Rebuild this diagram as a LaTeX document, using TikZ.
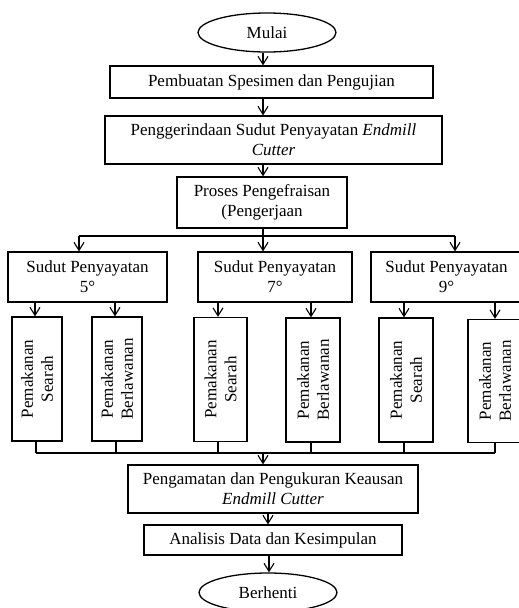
\documentclass[tikz,border=0pt]{standalone}
\usepackage{fontspec}
\setmainfont{Liberation Serif}
\usetikzlibrary{shapes.geometric,arrows.meta}
\begin{document}
\begin{tikzpicture}[x=1pt,y=-1pt,
  txt/.style={font=\fontsize{17}{20}\selectfont},
  box/.style={draw,line width=1.3pt,rectangle,inner sep=0pt,align=center,txt},
  oval/.style={draw,line width=1.3pt,ellipse,inner sep=0pt,txt,minimum width=138,minimum height=39},
  vbox/.style={draw,line width=1.3pt,rectangle,inner sep=0pt,minimum height=124},
  vtxt/.style={rotate=90,align=center,txt,inner sep=0pt},
  arr/.style={line width=1.3pt,-{Straight Barb[length=8pt,width=10pt,line width=1.1pt]}},
  ln/.style={line width=1.3pt}]
\useasboundingbox (0,0) rectangle (519,608);
% main column
\node[oval] (m) at (267,32.5) {Mulai};
\node[box,minimum width=323,minimum height=32] (b1) at (271.5,82) {Pembuatan Spesimen dan Pengujian};
\node[box,minimum width=337,minimum height=48] (b2) at (273.5,140) {Penggerindaan Sudut Penyayatan \textit{Endmill}\\\textit{Cutter}};
\node[box,minimum width=170,minimum height=51] (b3) at (262,202.5) {Proses Pengefraisan\\(Pengerjaan};
% angle boxes
\node[box,minimum width=159,minimum height=50] (sA) at (87.5,277) {Sudut Penyayatan\\5°};
\node[box,minimum width=154,minimum height=50] (sB) at (275,277) {Sudut Penyayatan\\7°};
\node[box,minimum width=151,minimum height=50] (sC) at (446.5,277) {Sudut Penyayatan\\9°};
% vertical boxes
\node[vbox,minimum width=50] (v1) at (37,379) {};
\node[vbox,minimum width=50] (v2) at (117,379) {};
\node[vbox,minimum width=53] (v3) at (220.5,379.5) {};
\node[vbox,minimum width=54] (v4) at (313,380) {};
\node[vbox,minimum width=54] (v5) at (406,380) {};
\node[vbox,minimum width=54,minimum height=123] (v6) at (495,381) {};
\node[vtxt] (t1) at (v1) {Pemakanan\\Searah};
\node[vtxt] (t2) at (v2) {Pemakanan\\Berlawanan};
\node[vtxt] (t3) at (v3) {Pemakanan\\Searah};
\node[vtxt] (t4) at (v4) {Pemakanan\\Berlawanan};
\node[vtxt] (t5) at (v5) {Pemakanan\\Searah};
\node[vtxt] (t6) at (v6) {Pemakanan\\Berlawanan};
% lower column
\node[box,minimum width=290,minimum height=48] (p) at (273,489) {Pengamatan dan Pengukuran Keausan\\\textit{Endmill Cutter}};
\node[box,minimum width=258,minimum height=30] (a) at (273,540) {Analisis Data dan Kesimpulan};
\node[oval] (e) at (268,592.5) {Berhenti};
% coordinates
\coordinate (cx) at (263,0);
\coordinate (brL) at (79,236);
\coordinate (brC) at (263,236);
\coordinate (brR) at (455,236);
\coordinate (mgL) at (36,453);
\coordinate (mgC) at (263,453);
\coordinate (mgR) at (495,453);
\coordinate (lx1) at (268,0);
\coordinate (lx2) at (269,0);
% connectors
\draw[arr] (m.south -| cx) -- (b1.north -| cx);
\draw[arr] (b1.south -| cx) -- (b2.north -| cx);
\draw[arr] (b2.south -| cx) -- (b3.north -| cx);
\draw[ln] (b3.south -| brC) -- (brC);
\draw[ln] (brL) -- (brR);
\draw[arr] (brL) -- (sA.north -| brL);
\draw[arr] (brC) -- (sB.north -| brC);
\draw[arr] (brR) -- (sC.north -| brR);
\draw[arr] ([xshift=-2pt]v1.north |- sA.south) -- ([xshift=-2pt]v1.north);
\draw[arr] ([xshift=-2pt]v2.north |- sA.south) -- ([xshift=-2pt]v2.north);
\draw[arr] ([xshift=-2.5pt]v3.north |- sB.south) -- ([xshift=-2.5pt]v3.north);
\draw[arr] ([xshift=-2pt]v4.north |- sB.south) -- ([xshift=-2pt]v4.north);
\draw[arr] ([xshift=-2pt]v5.north |- sC.south) -- ([xshift=-2pt]v5.north);
\draw[arr] (v6.north |- sC.south) -- (v6.north);
\draw[ln] ([xshift=-1pt]v1.south) -- ([xshift=-1pt]v1.south |- mgL);
\draw[ln] ([xshift=-1pt]v2.south) -- ([xshift=-1pt]v2.south |- mgL);
\draw[ln] ([xshift=-2.5pt]v3.south) -- ([xshift=-2.5pt]v3.south |- mgL);
\draw[ln] ([xshift=-2pt]v4.south) -- ([xshift=-2pt]v4.south |- mgL);
\draw[ln] ([xshift=-2pt]v5.south) -- ([xshift=-2pt]v5.south |- mgL);
\draw[ln] (v6.south) -- (v6.south |- mgL);
\draw[ln] (mgL) -- (mgR);
\draw[arr] (mgC) -- (p.north -| mgC);
\draw[arr] (p.south -| lx1) -- (a.north -| lx1);
\draw[arr] (a.south -| lx2) -- (e.north -| lx2);
\end{tikzpicture}
\end{document}
